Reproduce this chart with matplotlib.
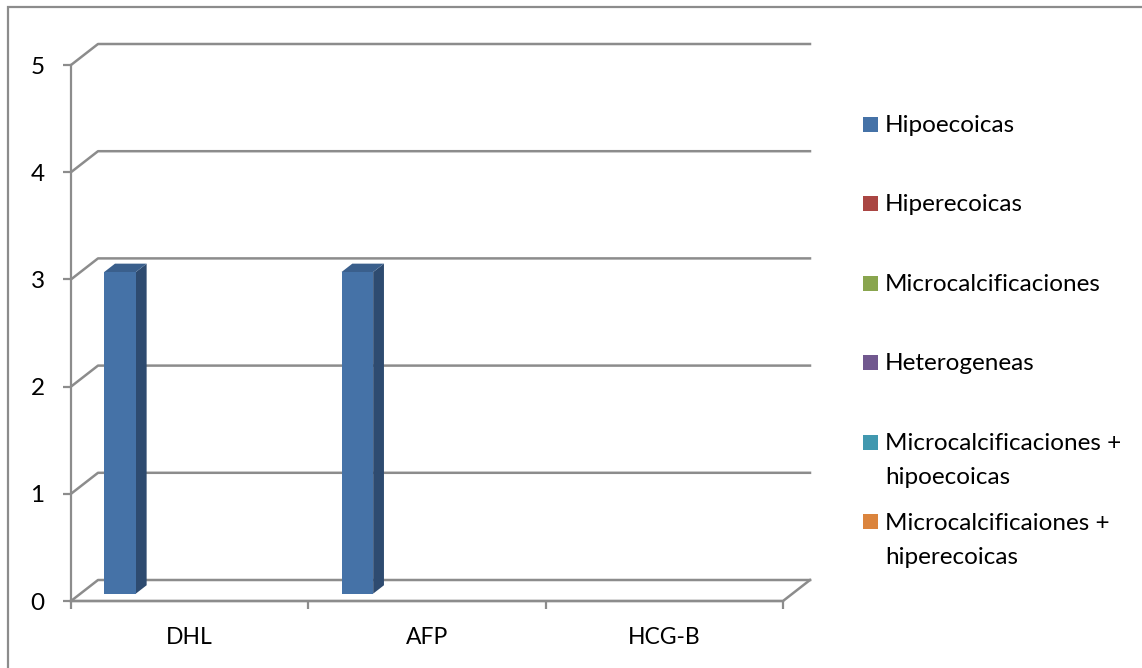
import matplotlib
matplotlib.use("Agg")
import matplotlib.pyplot as plt
from matplotlib.patches import Polygon, Rectangle
from matplotlib.lines import Line2D
from matplotlib.transforms import IdentityTransform
import numpy as np

# ---- data ----
categories = ["DHL", "AFP", "HCG-B"]
series_names = [
    "Hipoecoicas",
    "Hiperecoicas",
    "Microcalcificaciones",
    "Heterogeneas",
    "Microcalcificaciones +\nhipoecoicas",
    "Microcalcificaiones +\nhiperecoicas",
]
hipoecoicas = [3, 3, 0]
hiperecoicas = [0, 0, 0]
microcalcificaciones = [0, 0, 0]
heterogeneas = [0, 0, 0]
micro_hipo = [0, 0, 0]
micro_hiper = [0, 0, 0]
series_values = [hipoecoicas, hiperecoicas, microcalcificaciones,
                 heterogeneas, micro_hipo, micro_hiper]
y_ticks = [0, 1, 2, 3, 4, 5]

colors = ["#4572A7", "#AA4643", "#89A54E", "#71588F", "#4198AF", "#DB843D"]
side_colors = ["#2E4B70", "#722F2D", "#5B6E34", "#4B3B5F", "#2B6575", "#925829"]
top_colors = ["#3A5F8C", "#8E3A38", "#728A41", "#5E4977", "#367F92", "#B66E33"]

FONT = ["Lato", "DejaVu Sans"]
GRID = "#8C8C8C"
FS = 17.5

W, H = 1142, 668
fig = plt.figure(figsize=(W / 100, H / 100), dpi=100)
fig.patch.set_facecolor("white")

# outer chart frame
fig.add_artist(Rectangle((8 / W, -0.1), 1.2, (H - 7) / H + 0.1,
                         transform=fig.transFigure, fill=False,
                         edgecolor="#8C8C8C", linewidth=1.6))

# front plane of the 3D box
left, right = 71, 783
bottom, top = 601, 65
ax = fig.add_axes([left / W, (H - bottom) / H, (right - left) / W, (bottom - top) / H])
ax.set_xlim(0, len(categories))
ax.set_ylim(0, 5)
ax.patch.set_visible(False)
for s in ["top", "right"]:
    ax.spines[s].set_visible(False)
for s in ["left", "bottom"]:
    ax.spines[s].set_color(GRID)
    ax.spines[s].set_linewidth(1.6)

ax.set_yticks(y_ticks)
ax.set_yticklabels([str(t) for t in y_ticks], fontsize=FS, family=FONT)
ax.set_xticks(np.arange(len(categories) + 1))
ax.set_xticklabels([])
ax.set_xticks(np.arange(len(categories)) + 0.5, minor=True)
ax.set_xticklabels(categories, minor=True, fontsize=16.5, family=FONT)
ax.tick_params(axis="both", which="major", length=6, width=1.6, color=GRID, direction="out")
ax.tick_params(axis="y", pad=13)
ax.tick_params(axis="x", which="minor", length=0, pad=19)

# depth vector of the box (pixels)
DX, DY = 27.0, 21.0


def proj(x, y, d):
    px, py = ax.transData.transform((x, y))
    return (px + d * DX, py + d * DY)


def poly(pts, **kw):
    p = Polygon(pts, closed=True, transform=IdentityTransform(), clip_on=False, **kw)
    ax.add_artist(p)


def line(pts, **kw):
    xs, ys = zip(*pts)
    l = Line2D(xs, ys, transform=IdentityTransform(), clip_on=False, **kw)
    ax.add_artist(l)


x0, x1 = 0, len(categories)
# back wall gridlines with left wall diagonals
for t in y_ticks:
    line([proj(x0, t, 0), proj(x0, t, 1), proj(x1, t, 1)],
         color=GRID, linewidth=1.8, zorder=1)
# floor front edge and right diagonal
line([proj(x0, 0, 0), proj(x1, 0, 0), proj(x1, 0, 1)],
     color=GRID, linewidth=1.8, zorder=1)

# bars
n = len(series_values)
gap = 1.5
bw = 1.0 / (n + gap)
d_front, d_back = 0.35, 0.75
for j, vals in enumerate(series_values):
    for i, v in enumerate(vals):
        if v <= 0:
            continue
        xl = i + gap * bw / 2 + j * bw
        xr = xl + bw
        # right side face
        poly([proj(xr, 0, d_front), proj(xr, 0, d_back),
              proj(xr, v, d_back), proj(xr, v, d_front)],
             facecolor=side_colors[j], edgecolor="none", zorder=3)
        # top face
        poly([proj(xl, v, d_front), proj(xr, v, d_front),
              proj(xr, v, d_back), proj(xl, v, d_back)],
             facecolor=top_colors[j], edgecolor="none", zorder=3)
        # front face
        poly([proj(xl, 0, d_front), proj(xr, 0, d_front),
              proj(xr, v, d_front), proj(xl, v, d_front)],
             facecolor=colors[j], edgecolor="none", zorder=4)

# legend: swatch beside the first line of each entry
leg_x = 863
leg_y0 = 124
leg_step = 79.5
line_step = 34
for j, name in enumerate(series_names):
    cy = leg_y0 + j * leg_step
    fig.add_artist(Rectangle((leg_x / W, (H - cy - 7.5) / H), 15 / W, 15 / H,
                             transform=fig.transFigure, facecolor=colors[j],
                             edgecolor="none"))
    for k, part in enumerate(name.split("\n")):
        fig.text((leg_x + 22) / W, (H - cy - 8 - k * line_step) / H, part,
                 fontsize=FS, family=FONT, va="baseline", ha="left")

fig.savefig("out.png", dpi=100, facecolor="white")
